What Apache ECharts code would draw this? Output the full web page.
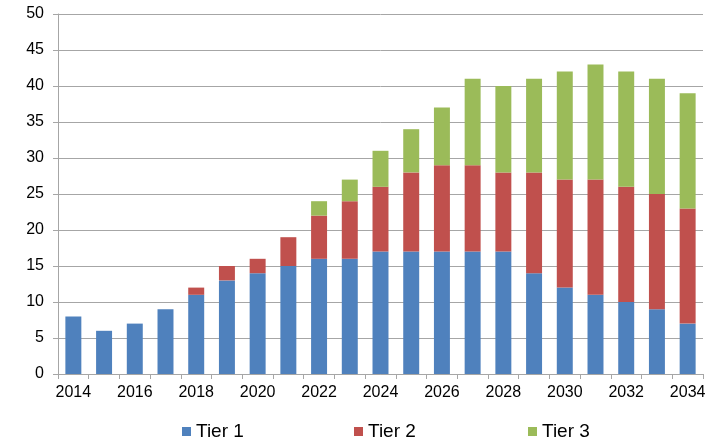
<!DOCTYPE html>
<html>
<head>
<meta charset="utf-8">
<script src="https://cdn.jsdelivr.net/npm/echarts@6/dist/echarts.min.js"></script>
<style>
  html, body { margin: 0; padding: 0; background: #fff; }
  #chart { width: 716px; height: 443px; }
</style>
</head>
<body>
<div id="chart"></div>
<script>
// Years on the horizontal axis
var years = ['2014','2015','2016','2017','2018','2019','2020','2021','2022','2023','2024',
             '2025','2026','2027','2028','2029','2030','2031','2032','2033','2034'];

// Stacked values per tier
var tier1 = [8, 6, 7, 9, 11, 13, 14, 15, 16, 16, 17, 17, 17, 17, 17, 14, 12, 11, 10, 9, 7];
var tier2 = [0, 0, 0, 0, 1, 2, 2, 4, 6, 8, 9, 11, 12, 12, 11, 14, 15, 16, 16, 16, 16];
var tier3 = [0, 0, 0, 0, 0, 0, 0, 0, 2, 3, 5, 6, 8, 12, 12, 13, 15, 16, 16, 16, 16];

var seriesNames = ['Tier 1', 'Tier 2', 'Tier 3'];
var seriesColors = ['#4f81bd', '#c0504d', '#9bbb59'];

var FONT = '"Liberation Sans", Arial, sans-serif';
var GRID_COLOR = '#a6a6a6';

var chart = echarts.init(document.getElementById('chart'), null, { renderer: 'canvas' });

function legendFor(i, left) {
  return {
    left: left,
    top: 422,
    padding: 0,
    itemWidth: 9,
    itemHeight: 9,
    itemGap: 0,
    icon: 'rect',
    data: [seriesNames[i]],
    textStyle: { fontFamily: FONT, fontSize: 19, color: '#000' }
  };
}

function barSeries(i, values) {
  return {
    name: seriesNames[i],
    type: 'bar',
    stack: 'total',
    barWidth: '52%',
    data: values,
    itemStyle: { color: seriesColors[i] },
    emphasis: { disabled: true }
  };
}

chart.setOption({
  animation: false,
  backgroundColor: '#fff',
  grid: { left: 58, right: 13, top: 14, bottom: 69 },
  legend: [legendFor(0, 182), legendFor(1, 354), legendFor(2, 528)],
  xAxis: {
    type: 'category',
    data: years,
    boundaryGap: true,
    axisLine: { lineStyle: { color: GRID_COLOR, width: 1 } },
    axisTick: { show: true, interval: 0, length: 5, alignWithLabel: false, lineStyle: { color: GRID_COLOR } },
    axisLabel: { interval: 1, margin: 11, fontFamily: FONT, fontSize: 16, color: '#000' },
    splitLine: { show: false }
  },
  yAxis: {
    type: 'value',
    min: 0,
    max: 50,
    interval: 5,
    axisLine: { show: true, lineStyle: { color: GRID_COLOR, width: 1 } },
    axisTick: { show: true, length: 5, lineStyle: { color: GRID_COLOR } },
    axisLabel: { margin: 14, fontFamily: FONT, fontSize: 16, color: '#000' },
    splitLine: { show: true, lineStyle: { color: GRID_COLOR, width: 1 } }
  },
  series: [barSeries(0, tier1), barSeries(1, tier2), barSeries(2, tier3)]
});
</script>
</body>
</html>
